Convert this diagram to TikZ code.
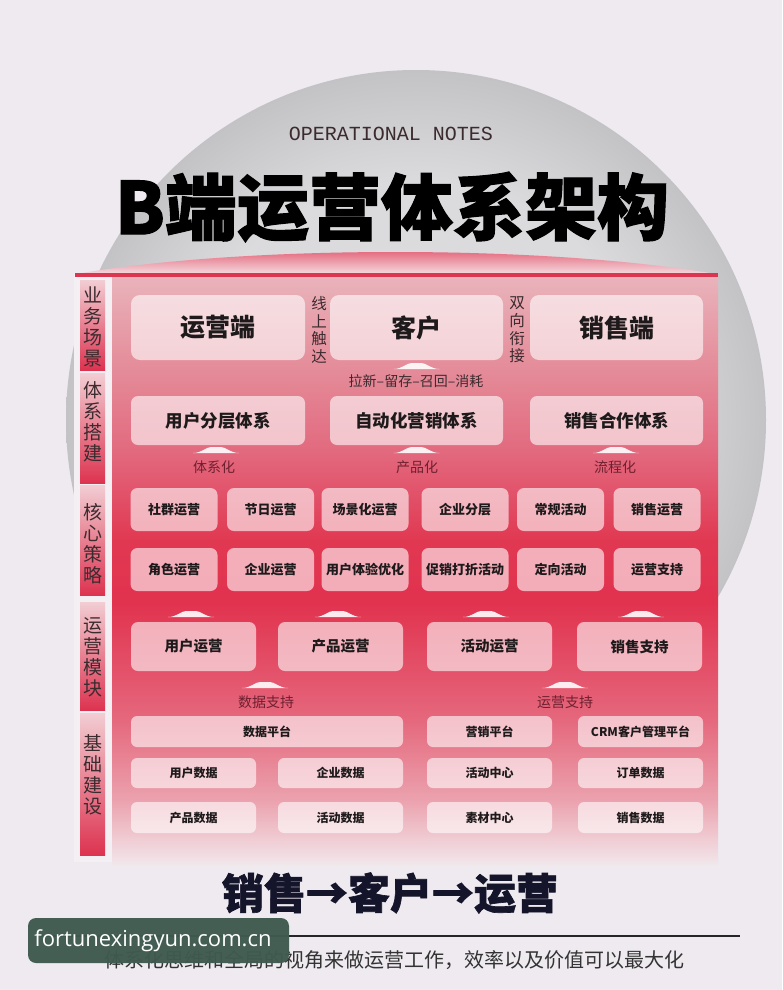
\documentclass[tikz,border=0pt]{standalone}
\usepackage{fontspec}
\setmainfont{Noto Sans CJK SC}
\newfontfamily\monofont{Liberation Mono}
\newfontfamily\wmfont{Open Sans}
\newfontfamily\heavy{Noto Sans CJK SC}[BoldFeatures={FakeBold=1.5}]
\definecolor{bg}{HTML}{EEEAF0}
\definecolor{ci}{HTML}{DBDADC}
\definecolor{co}{HTML}{C3C2C5}
\definecolor{backdrop}{HTML}{F3EFF2}
\definecolor{pb0}{HTML}{F0E9ED}
\definecolor{pb1}{HTML}{F0CDD4}
\definecolor{pb2}{HTML}{EBA2AE}
\definecolor{pb3}{HTML}{E5687D}
\definecolor{pb4}{HTML}{E1324E}
\definecolor{pb5}{HTML}{E13852}
\definecolor{pb6}{HTML}{E26A7F}
\definecolor{pb7}{HTML}{E5939F}
\definecolor{pb8}{HTML}{E9B3BB}
\definecolor{topline}{HTML}{DB3550}
\definecolor{lidtop}{HTML}{E04C65}
\definecolor{lidbot}{HTML}{F4D6DB}
\definecolor{lbtop}{HTML}{F2CDD3}
\definecolor{lbbot}{HTML}{DD3350}
\definecolor{txt}{HTML}{1E1A1B}
\definecolor{subtxt}{HTML}{3B2B2F}
\definecolor{maroon}{HTML}{6E2030}
\definecolor{wm}{HTML}{3F5A4F}
\definecolor{dark}{HTML}{14142A}
\pgfdeclareverticalshading{panelshade}{100bp}{color(0bp)=(pb0); color(25bp)=(pb0); color(27.2bp)=(pb1); color(30.6bp)=(pb2); color(37.4bp)=(pb3); color(47.5bp)=(pb4); color(52.6bp)=(pb5); color(60.3bp)=(pb6); color(68.7bp)=(pb7); color(75bp)=(pb8); color(100bp)=(pb8)}
\pgfdeclareradialshading{circshade}{\pgfpoint{0bp}{0bp}}{color(0bp)=(ci); color(17bp)=(ci); color(25bp)=(co); color(50bp)=(co)}
\tikzset{
  obox/.style={rounded corners=7pt, fill=white, fill opacity=0.6, text opacity=1, text=txt, inner sep=0pt, font=\bfseries},
  bigbox/.style={obox, rounded corners=9pt, minimum width=174pt, minimum height=65pt, font=\bfseries\fontsize{25}{25}\selectfont},
  midbox/.style={obox, minimum width=174pt, minimum height=49pt, font=\bfseries\fontsize{17.5}{18}\selectfont},
  smallbox/.style={obox, minimum width=87pt, minimum height=43pt, font=\bfseries\fontsize{13}{13}\selectfont},
  modbox/.style={obox, minimum width=125pt, minimum height=49pt, font=\bfseries\fontsize{14.5}{15}\selectfont},
  basebox/.style={obox, rounded corners=6pt, minimum width=125pt, minimum height=31pt, font=\bfseries\fontsize{12}{12}\selectfont},
  labbar/.style={minimum width=25pt, top color=lbtop, bottom color=lbbot, inner sep=0pt},
  labtext/.style={align=center, text=subtxt, font=\fontsize{19}{21}\selectfont},
  vtext/.style={align=center, text=subtxt, font=\fontsize{15.5}{17.6}\selectfont},
  steplabel/.style={text=maroon, font=\fontsize{14}{14}\selectfont},
  mnd/.pic={\fill[white, opacity=0.9] (-23,0) .. controls (-14,0) and (-10,-6) .. (-5,-6) -- (5,-6) .. controls (10,-6) and (14,0) .. (23,0) -- cycle;}
}
\begin{document}
\begin{tikzpicture}[x=1pt,y=-1pt, every node/.style={inner sep=0pt, outer sep=0pt}]
\useasboundingbox (0,0) rectangle (782,990);
\fill[bg] (0,0) rectangle (782,990);
% big grey disc
\shade[shading=circshade] (416,420) circle[radius=350];
% panel
\fill[backdrop] (74,273) rectangle (718,862);
\shade[shading=panelshade] (112,277) rectangle (718,866);
\shade[top color=lidtop, bottom color=lidbot] (82,273) .. controls (250,245) and (540,245) .. (710,273) -- cycle;
\fill[topline] (75,273) rectangle (718,277);

% titles
\node[text=subtxt, font=\monofont\fontsize{20}{20}\selectfont] (sub) at (391,134) {OPERATIONAL NOTES};
\node[text=black, font=\heavy\bfseries\fontsize{72}{72}\selectfont] (title) at (392,207) {B端运营体系架构};

% left category bars
\node[labbar, minimum height=90pt] (l1) at (92.5,325) {};
\node[labbar, minimum height=110pt] (l2) at (92.5,428) {};
\node[labbar, minimum height=110pt] (l3) at (92.5,540) {};
\node[labbar, minimum height=108pt] (l4) at (92.5,656) {};
\node[labbar, minimum height=142pt] (l5) at (92.5,784) {};
\node[labtext] (t1) at (93,327) {业\\务\\场\\景};
\node[labtext] (t2) at (93,422) {体\\系\\搭\\建};
\node[labtext] (t3) at (93,544) {核\\心\\策\\略};
\node[labtext] (t4) at (93,657) {运\\营\\模\\块};
\node[labtext] (t5) at (93,775) {基\\础\\建\\设};

% row 1
\node[bigbox] (ops) at (218,327.5) {运营端};
\node[bigbox, minimum width=173pt] (cust) at (416.5,327.5) {客户};
\node[bigbox, minimum width=173pt] (sales) at (616.5,327.5) {销售端};
\node[vtext] (reach) at (319,330) {线\\上\\触\\达};
\node[vtext] (link) at (517,330) {双\\向\\衔\\接};
\pic at (416.5,369) {mnd};
\node[text=subtxt, font=\fontsize{14}{14}\selectfont] (cycle) at (416,381) {拉新–留存–召回–消耗};

% row 2
\node[midbox] (layer) at (218,420.5) {用户分层体系};
\node[midbox, minimum width=173pt] (auto) at (416.5,420.5) {自动化营销体系};
\node[midbox, minimum width=173pt] (coop) at (616.5,420.5) {销售合作体系};
\pic at (216,453) {mnd};
\pic at (416.5,453) {mnd};
\pic at (616,453) {mnd};
\node[steplabel] (s1) at (214,467) {体系化};
\node[steplabel] (s2) at (417,467) {产品化};
\node[steplabel] (s3) at (615,467) {流程化};

% rows 3 and 4
\node[smallbox] (a1) at (174,509.5) {社群运营};
\node[smallbox] (a2) at (270.5,509.5) {节日运营};
\node[smallbox] (a3) at (365,509.5) {场景化运营};
\node[smallbox] (a4) at (465,509.5) {企业分层};
\node[smallbox] (a5) at (560.5,509.5) {常规活动};
\node[smallbox] (a6) at (657,509.5) {销售运营};
\node[smallbox] (b1) at (174,569.5) {角色运营};
\node[smallbox] (b2) at (270.5,569.5) {企业运营};
\node[smallbox] (b3) at (365,569.5) {用户体验优化};
\node[smallbox] (b4) at (465,569.5) {促销打折活动};
\node[smallbox] (b5) at (560.5,569.5) {定向活动};
\node[smallbox] (b6) at (657,569.5) {运营支持};

% row 5
\pic at (191,617) {mnd};
\pic at (338,617) {mnd};
\pic at (486,617) {mnd};
\pic at (641,617) {mnd};
\node[modbox] (m1) at (193.5,646.5) {用户运营};
\node[modbox] (m2) at (340.5,646.5) {产品运营};
\node[modbox] (m3) at (489.5,646.5) {活动运营};
\node[modbox] (m4) at (639.5,646.5) {销售支持};

% base
\pic at (265,688) {mnd};
\pic at (565,688) {mnd};
\node[steplabel] (d1) at (266,702) {数据支持};
\node[steplabel] (d2) at (565,702) {运营支持};
\node[basebox, minimum width=272pt] (p1) at (267,731.5) {数据平台};
\node[basebox] (p2) at (489.5,731.5) {营销平台};
\node[basebox] (p3) at (640.5,731.5) {CRM客户管理平台};
\node[basebox, minimum height=30pt] (q1) at (193.5,773) {用户数据};
\node[basebox, minimum height=30pt] (q2) at (340.5,773) {企业数据};
\node[basebox, minimum height=30pt] (q3) at (489.5,773) {活动中心};
\node[basebox, minimum height=30pt] (q4) at (640.5,773) {订单数据};
\node[basebox] (r1) at (193.5,817.5) {产品数据};
\node[basebox] (r2) at (340.5,817.5) {活动数据};
\node[basebox] (r3) at (489.5,817.5) {素材中心};
\node[basebox] (r4) at (640.5,817.5) {销售数据};

% footer
\node[text=dark, font=\heavy\bfseries\fontsize{42}{42}\selectfont] (flow) at (390,893) {销售→客户→运营};
\coordinate (lineL) at (40,936);
\coordinate (lineR) at (740,936);
\draw[line width=1.5pt, color=black!85] (lineL) -- (lineR);
\node[text=black!80, font=\fontsize{20}{20}\selectfont] (cap) at (394,960) {体系化思维和全局的视角来做运营工作，效率以及价值可以最大化};
\node[fill=wm, fill opacity=0.97, rounded corners=8pt, minimum width=261pt, minimum height=45pt] (wmbox) at (158.5,940.5) {};
\node[text=white, font=\wmfont\fontsize{22}{22}\selectfont] (wmtext) at (153,941) {fortunexingyun.com.cn};
\end{tikzpicture}
\end{document}
